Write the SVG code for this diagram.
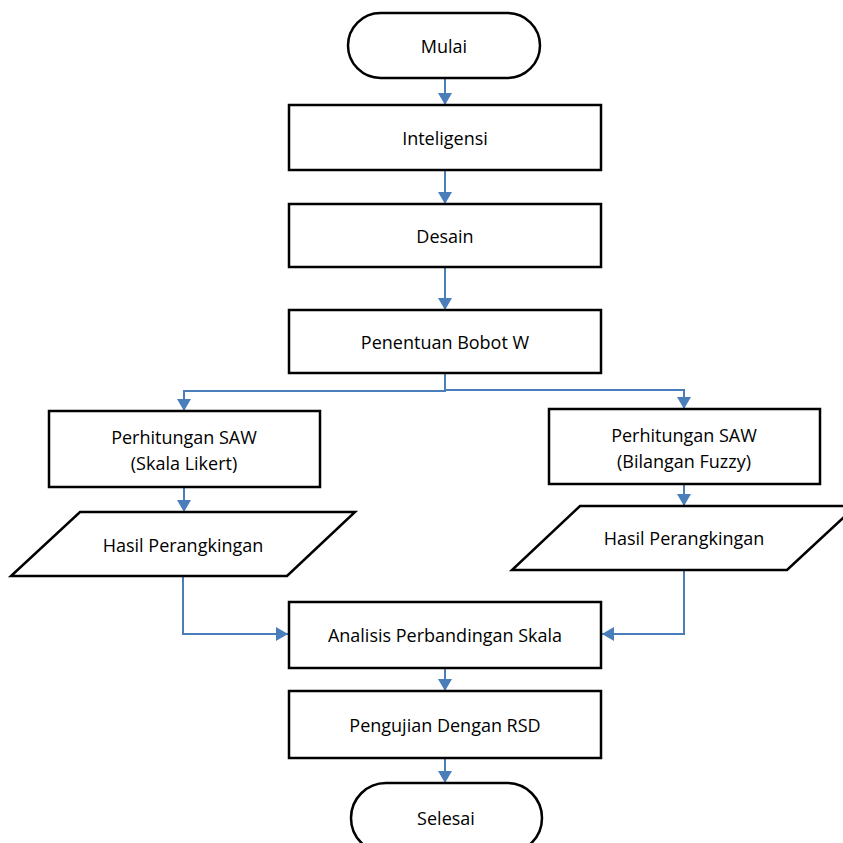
<svg xmlns="http://www.w3.org/2000/svg" width="843" height="843" viewBox="0 0 843 843">
<style>
.n{fill:#fff;stroke:#000;stroke-width:2.5}
.t{font-family:"Open Sans","Liberation Sans",sans-serif;font-size:18px;fill:#000;text-anchor:middle;dominant-baseline:central}
.c{fill:none;stroke:#4A7EBB;stroke-width:2}
</style>
<defs>
<marker id="a" viewBox="0 0 12 14" refX="12" refY="7" markerWidth="12" markerHeight="14" markerUnits="userSpaceOnUse" orient="auto">
<path d="M0,0 L12,7 L0,14 Z" fill="#4A7EBB"/>
</marker>
</defs>
<rect width="843" height="843" fill="#fff"/>
<g id="connectors">
<path class="c" d="M445,78 V105" marker-end="url(#a)"/>
<path class="c" d="M445,170 V204" marker-end="url(#a)"/>
<path class="c" d="M445,267 V310" marker-end="url(#a)"/>
<path class="c" d="M445,373 V391 H184 V411" marker-end="url(#a)"/>
<path class="c" d="M445,373 V390 H684 V409" marker-end="url(#a)"/>
<path class="c" d="M184,487 V512" marker-end="url(#a)"/>
<path class="c" d="M684,484 V506" marker-end="url(#a)"/>
<path class="c" d="M183,576 V634 H288" marker-end="url(#a)"/>
<path class="c" d="M684,570 V634 H602" marker-end="url(#a)"/>
<path class="c" d="M445,668 V691" marker-end="url(#a)"/>
<path class="c" d="M445,758 V783" marker-end="url(#a)"/>
</g>
<g id="mulai"><rect class="n" x="348" y="13" width="192" height="65" rx="32.5"/><text class="t" x="444" y="46">Mulai</text></g>
<g id="inteligensi"><rect class="n" x="289" y="105" width="312" height="65"/><text class="t" x="445" y="138">Inteligensi</text></g>
<g id="desain"><rect class="n" x="289" y="204" width="312" height="63"/><text class="t" x="445" y="236">Desain</text></g>
<g id="bobot"><rect class="n" x="289" y="310" width="312" height="63"/><text class="t" x="445" y="342">Penentuan Bobot W</text></g>
<g id="saw-likert"><rect class="n" x="49" y="411" width="271" height="76"/><text class="t" x="184" y="437">Perhitungan SAW</text><text class="t" x="184" y="463">(Skala Likert)</text></g>
<g id="saw-fuzzy"><rect class="n" x="549" y="409" width="271" height="75"/><text class="t" x="684" y="435">Perhitungan SAW</text><text class="t" x="684" y="461">(Bilangan Fuzzy)</text></g>
<g id="hasil-1"><polygon class="n" points="80,512 355,512 287,576 11,576"/><text class="t" x="183" y="545">Hasil Perangkingan</text></g>
<g id="hasil-2"><polygon class="n" points="580,506 856,506 787,570 512,570"/><text class="t" x="684" y="538">Hasil Perangkingan</text></g>
<g id="analisis"><rect class="n" x="289" y="602" width="312" height="66"/><text class="t" x="445" y="635">Analisis Perbandingan Skala</text></g>
<g id="pengujian"><rect class="n" x="289" y="691" width="312" height="67"/><text class="t" x="445" y="725">Pengujian Dengan RSD</text></g>
<g id="selesai"><rect class="n" x="351" y="783" width="191" height="70" rx="35"/><text class="t" x="446" y="818">Selesai</text></g>
</svg>
